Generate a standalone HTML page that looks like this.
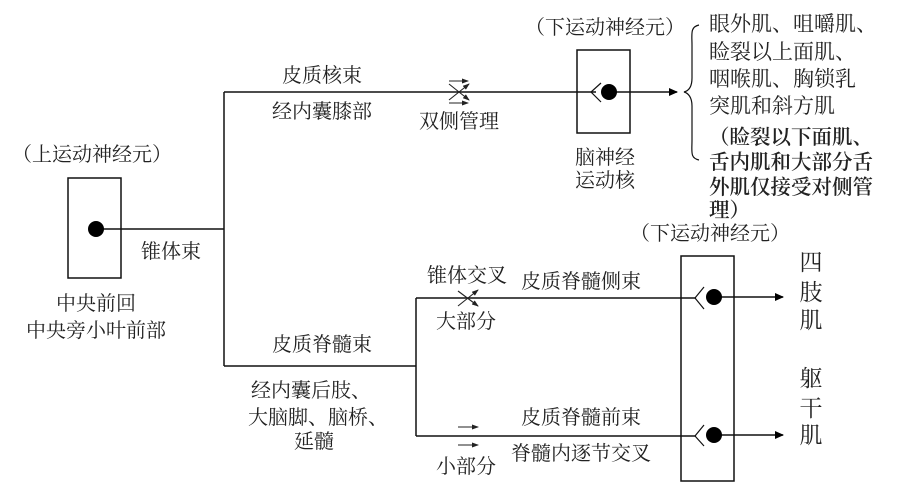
<!DOCTYPE html>
<html><head><meta charset="utf-8">
<style>
html,body{margin:0;padding:0;background:#fff}
svg{display:block}
text{font-family:"Noto Serif CJK SC","Liberation Serif",serif;fill:#222}
.a{font-size:20px}
.r{font-size:21px}
.l{font-size:23px}
.b{font-size:20.5px;font-weight:600;font-family:"Noto Serif CJK SC",serif}
.m{text-anchor:middle}
</style></head><body>
<svg width="905" height="489" viewBox="0 0 905 489" xmlns="http://www.w3.org/2000/svg">
<defs>
<marker id="ar" markerWidth="9" markerHeight="8" refX="8" refY="4" orient="auto" markerUnits="userSpaceOnUse"><path d="M0,0L9,4L0,8z" fill="#000"/></marker>
<marker id="as" markerWidth="7" markerHeight="5" refX="6" refY="2.5" orient="auto" markerUnits="userSpaceOnUse"><path d="M0,0L7,2.5L0,5z" fill="#222"/></marker>
</defs>
<g fill="none" stroke="#111" stroke-width="1.5">
<rect x="68" y="178" width="53" height="100"/>
<rect x="577" y="50" width="53" height="83"/>
<rect x="681" y="256" width="53" height="225"/>
<path d="M96,229H224M224,92V366M224,92H596M224,366H416M416,298V436M416,298H696M416,436H696"/>
<path d="M609,92H677" marker-end="url(#ar)"/>
<path d="M714,297H783" marker-end="url(#ar)"/>
<path d="M714,435H783" marker-end="url(#ar)"/>
<path d="M601,83L591,92L601,102M704,287L695,298L704,309M704,425L695,436L704,446" stroke-width="1.2"/>
<path d="M699,25C690,27 692,34 692,45V78C692,88 688,91 684,92C688,93 692,97 692,106V140C692,152 690,158 699,160" stroke-width="1.2"/>
</g>
<g fill="#000"><circle cx="96" cy="229" r="8"/><circle cx="609" cy="92" r="8"/><circle cx="714" cy="297" r="8"/><circle cx="714" cy="435" r="8"/></g>
<g fill="none" stroke="#222" stroke-width="1.1">
<path d="M449,81H468" marker-end="url(#as)"/>
<path d="M449,103H468" marker-end="url(#as)"/>
<path d="M449,100L469,84" marker-end="url(#as)"/>
<path d="M449,84L469,100" marker-end="url(#as)"/>
<path d="M458,306L478,290" marker-end="url(#as)"/>
<path d="M458,291L478,306" marker-end="url(#as)"/>
<path d="M458,427H478" marker-end="url(#as)"/>
<path d="M458,445H478" marker-end="url(#as)"/>
</g>
<g class="a">
<text x="92" y="161" class="m">（上运动神经元）</text>
<text x="96" y="310" class="m">中央前回</text>
<text x="96" y="337" class="m">中央旁小叶前部</text>
<text x="171" y="258" class="m">锥体束</text>
<text x="322" y="82" class="m">皮质核束</text>
<text x="322" y="118" class="m">经内囊膝部</text>
<text x="459" y="128" class="m">双侧管理</text>
<text x="605" y="34" class="m">（下运动神经元）</text>
<text x="605" y="164" class="m">脑神经</text>
<text x="605" y="187" class="m">运动核</text>
<text x="710" y="240" class="m">（下运动神经元）</text>
<text x="467" y="282" class="m">锥体交叉</text>
<text x="581" y="288" class="m">皮质脊髓侧束</text>
<text x="466" y="328" class="m">大部分</text>
<text x="322" y="351" class="m">皮质脊髓束</text>
<text x="311" y="397" class="m">经内囊后肢、</text>
<text x="318" y="424" class="m">大脑脚、脑桥、</text>
<text x="314" y="448" class="m">延髓</text>
<text x="581" y="424" class="m">皮质脊髓前束</text>
<text x="581" y="460" class="m">脊髓内逐节交叉</text>
<text x="466" y="473" class="m">小部分</text>
</g>
<g class="r">
<text x="709" y="31">眼外肌、咀嚼肌、</text>
<text x="709" y="59">睑裂以上面肌、</text>
<text x="709" y="86">咽喉肌、胸锁乳</text>
<text x="709" y="113">突肌和斜方肌</text>
</g>
<g class="l">
<text x="811" y="270" class="m">四</text>
<text x="811" y="300" class="m">肢</text>
<text x="811" y="328" class="m">肌</text>
<text x="811" y="386" class="m">躯</text>
<text x="811" y="416" class="m">干</text>
<text x="811" y="443" class="m">肌</text>
</g>
<g class="b">
<text x="709" y="144">（睑裂以下面肌、</text>
<text x="709" y="169">舌内肌和大部分舌</text>
<text x="709" y="194">外肌仅接受对侧管</text>
<text x="709" y="217">理）</text>
</g>
</svg>
</body></html>
